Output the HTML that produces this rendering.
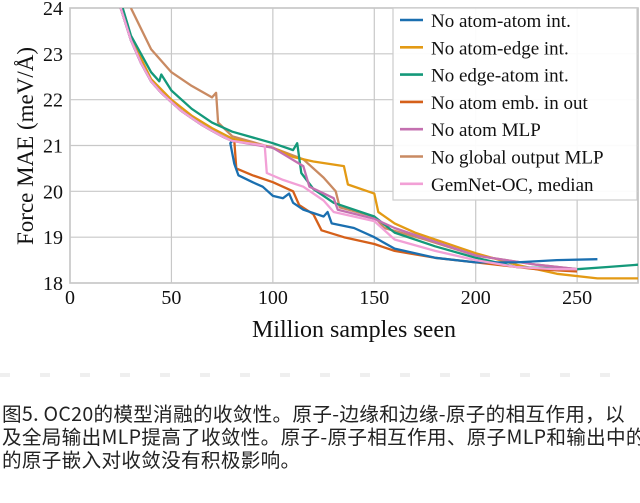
<!DOCTYPE html>
<html><head><meta charset="utf-8"><style>
body{margin:0;background:#fff;width:640px;height:503px;overflow:hidden}
.cap{position:absolute;left:2px;font-family:"WenQuanYi Zen Hei","Noto Sans CJK SC",sans-serif;font-size:19.6px;color:#222;white-space:nowrap;letter-spacing:0.3px}
</style></head><body>
<svg id="chart" width="640" height="360" style="position:absolute;left:0;top:0" xmlns="http://www.w3.org/2000/svg"></svg>
<div style="position:absolute;left:0;top:373px;width:640px;height:4px;background:repeating-linear-gradient(90deg,#e4e4e4 0 10px,#fff 10px 40px);opacity:.6"></div>
<div class="cap" style="top:398px">图5. OC20的模型消融的收敛性。原子-边缘和边缘-原子的相互作用，以</div>
<div class="cap" style="top:421px">及全局输出MLP提高了收敛性。原子-原子相互作用、原子MLP和输出中的</div>
<div class="cap" style="top:444px">的原子嵌入对收敛没有积极影响。</div>
<script>
const xTicks=[0,50,100,150,200,250];
const yTicks=[18,19,20,21,22,23,24];
const names=["No atom-atom int.","No atom-edge int.","No edge-atom int.","No atom emb. in out","No atom MLP","No global output MLP","GemNet-OC, median"];
const baseX=[25,30,35,40,45,50,55,60,65,70,75,80];
const baseY=[24,23.3,22.8,22.4,22.15,21.95,21.75,21.6,21.45,21.32,21.2,21.1];
const blueX=[79,81,83,90,95,100,105,108,110,115,125,127,129,140,150,152,160,180,200,220,240,260];
const blueY=[21.05,20.6,20.35,20.2,20.1,19.9,19.85,19.95,19.75,19.6,19.45,19.55,19.3,19.2,19.0,18.95,18.75,18.55,18.45,18.45,18.5,18.52];
const orangeX=[25,30,40,50,60,70,80,100,110,120,135,137,150,152,160,170,180,200,220,240,260,280];
const orangeY=[24,23.35,22.45,22.0,21.65,21.38,21.15,20.95,20.75,20.65,20.55,20.15,19.95,19.55,19.3,19.1,18.95,18.65,18.4,18.2,18.1,18.1];
const greenX=[26,30,40,44,45,50,60,70,80,100,110,112,114,120,130,150,160,180,200,220,250,265,280];
const greenY=[24,23.4,22.6,22.4,22.55,22.2,21.8,21.5,21.3,21.05,20.9,21.05,20.4,20.05,19.75,19.45,19.1,18.8,18.55,18.35,18.3,18.35,18.4];
const vermX=[81,82,90,100,110,113,120,124,135,150,160,180,200,230,250];
const vermY=[21.1,20.5,20.35,20.2,20.0,19.7,19.5,19.15,19.0,18.85,18.7,18.55,18.45,18.3,18.25];
const purpX=[100,115,118,130,132,150,160,180,200,230,250];
const purpY=[20.95,20.55,20.1,19.85,19.6,19.4,19.2,18.9,18.6,18.4,18.3];
const brownX=[30,40,50,60,70,72,73,80,100,115,125,131,133,150,155,175,200,230,250];
const brownY=[24,23.1,22.6,22.3,22.05,22.15,21.5,21.2,20.95,20.7,20.3,20.0,19.65,19.45,19.2,18.95,18.6,18.4,18.3];
const pinkX=[96,97,105,115,125,130,150,160,180,200,220,240,250];
const pinkY=[21.0,20.4,20.25,20.1,19.8,19.55,19.35,18.95,18.7,18.5,18.35,18.3,18.3];
const colors=["#1a6fb0","#e39a14","#14997a","#d5601a","#c470b0","#c98a62","#f2a0d6"];
const L=70,R=638,T=8,B=283;
const sx=v=>L+(v/280)*(R-L), sy=v=>B-(v-18)/6*(B-T);
const svg=document.getElementById('chart');const NS="http://www.w3.org/2000/svg";
function mk(t,a,txt){const e=document.createElementNS(NS,t);for(const k in a)e.setAttribute(k,a[k]);if(txt!==undefined)e.textContent=txt;svg.appendChild(e);return e;}
const bg=mk('rect',{x:L,y:T,width:R-L,height:B-T,fill:'#fff',stroke:'#bbb','stroke-width':1.5});


xTicks.forEach(v=>{const g=mk('line',{x1:sx(v),x2:sx(v),y1:T,y2:B,stroke:'#c8c8c8','stroke-width':1.2});


const t=mk('text',{x:sx(v),y:B+21,'text-anchor':'middle','font-family':'Liberation Serif,serif','font-size':20,fill:'#111'},v);

});
yTicks.forEach(v=>{const g=mk('line',{x1:L,x2:R,y1:sy(v),y2:sy(v),stroke:'#c8c8c8','stroke-width':1.2});


const t=mk('text',{x:L-7,y:sy(v)+7,'text-anchor':'end','font-family':'Liberation Serif,serif','font-size':20,fill:'#111'},v);

});
const xl=mk('text',{x:354,y:337,'text-anchor':'middle','font-family':'Liberation Serif,serif','font-size':24,fill:'#111'},'Million samples seen');


const yl=mk('text',{x:0,y:0,transform:'translate(33,146) rotate(-90)','text-anchor':'middle','font-family':'Liberation Serif,serif','font-size':23,fill:'#111'},'Force MAE (meV/Å)');


const clip=mk('clipPath',{id:'cp'});const cr=document.createElementNS(NS,'rect');cr.setAttribute('x',L);cr.setAttribute('y',T);cr.setAttribute('width',R-L);cr.setAttribute('height',B-T);clip.appendChild(cr);
const series=[[baseX.concat(blueX),baseY.concat(blueY)],[orangeX,orangeY],[greenX,greenY],[baseX.concat(vermX),baseY.concat(vermY)],[baseX.concat(purpX),baseY.concat(purpY)],[brownX,brownY],[baseX.concat(pinkX),baseY.concat(pinkY)]];
const order=[5,1,2,4,3,0,6];
order.forEach(i=>{const [xs,ys]=series[i];let d='';xs.forEach((x,j)=>{d+=(j?'L':'M')+sx(x).toFixed(1)+','+sy(ys[j]).toFixed(1);});
const p=mk('path',{d:d,fill:'none',stroke:colors[i],'stroke-width':2.3,'clip-path':'url(#cp)','stroke-linejoin':'round'});

});
const lg=mk('rect',{x:393,y:8,width:244,height:192,fill:'#fff','fill-opacity':0.92,stroke:'#ccc','stroke-width':1.2});


names.forEach((n,i)=>{const y=20+i*27.3;
const ln=mk('line',{x1:400,x2:423,y1:y,y2:y,stroke:colors[i],'stroke-width':2.6});


const t=mk('text',{x:431,y:y+7,'font-family':'Liberation Serif,serif','font-size':19,fill:'#111'},n);

});
</script>
</body></html>
